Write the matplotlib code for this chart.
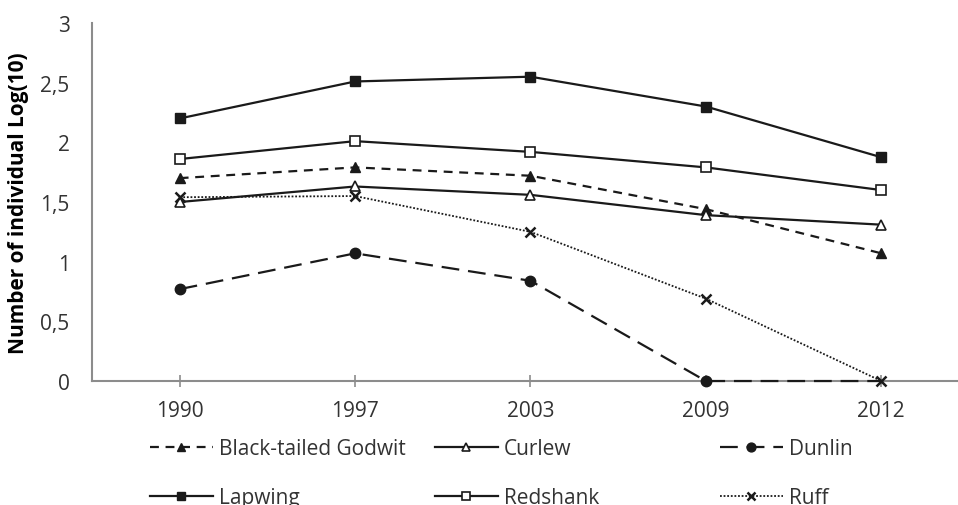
import matplotlib
matplotlib.use("Agg")
import matplotlib.pyplot as plt
from matplotlib.ticker import FuncFormatter

plt.rcParams['font.family'] = ['Open Sans', 'DejaVu Sans']

years = ["1990", "1997", "2003", "2009", "2012"]
godwit = [1.70, 1.79, 1.72, 1.44, 1.07]
curlew = [1.50, 1.63, 1.56, 1.39, 1.31]
dunlin = [0.77, 1.07, 0.84, 0.0, 0.0]
lapwing = [2.20, 2.51, 2.55, 2.30, 1.875]
redshank = [1.86, 2.01, 1.92, 1.79, 1.60]
ruff = [1.54, 1.55, 1.25, 0.69, 0.0]

LC = "#1a1a1a"
AX = "#8c8c8c"
TC = "#333333"

fig = plt.figure(figsize=(9.58, 5.06), dpi=100)
ax = fig.add_axes([0.096, 0.245, 0.9155, 0.7076])
x = range(len(years))

common = dict(color=LC, lw=1.6, mec=LC, clip_on=False, zorder=3)
h_god, = ax.plot(x, godwit, ls=(0, (4, 3)), marker="^", ms=7, mfc=LC, label="Black-tailed Godwit", **common)
h_cur, = ax.plot(x, curlew, ls="-", marker="^", ms=7, mfc="white", mew=1.2, label="Curlew", **common)
h_dun, = ax.plot(x, dunlin, ls=(0, (8, 4)), marker="o", ms=7.5, mfc=LC, markevery=[0, 1, 2, 3],
                 label="Dunlin", **common)
h_lap, = ax.plot(x, lapwing, ls="-", marker="s", ms=6.5, mfc=LC, label="Lapwing", **common)
h_red, = ax.plot(x, redshank, ls="-", marker="s", ms=7, mfc="white", mew=1.2, label="Redshank", **common)
h_ruf, = ax.plot(x, ruff, ls=(0, (1, 1)), lw=1.3, color=LC, marker="x", ms=7, mew=1.8, mec=LC,
                 clip_on=False, zorder=3, label="Ruff")

ax.set_xlim(-0.5, 4.5)
ax.set_ylim(0, 3)
ax.set_xticks(list(x))
ax.set_xticklabels(years)
ax.set_yticks([0, 0.5, 1, 1.5, 2, 2.5, 3])
ax.yaxis.set_major_formatter(FuncFormatter(lambda v, p: f"{v:g}".replace(".", ",")))

for s in ["top", "right"]:
    ax.spines[s].set_visible(False)
for s in ["left", "bottom"]:
    ax.spines[s].set_color(AX)
    ax.spines[s].set_linewidth(1.5)

ax.tick_params(axis="y", length=0, pad=16, labelsize=15, labelcolor=TC)
ax.tick_params(axis="x", direction="inout", length=8, width=1.2, color=AX, pad=10,
               labelsize=15, labelcolor=TC)
ax.set_ylabel("Number of individual Log(10)", fontsize=15, fontweight="bold")
ax.yaxis.set_label_coords(-0.072, 0.5)

# Excel-style legend: three equal-width columns
cols = [([h_god, h_lap], 150), ([h_cur, h_red], 435), ([h_dun, h_ruf], 720)]
for hs, px in cols:
    leg = fig.legend(handles=hs, loc="upper left", bbox_to_anchor=(px / 958, 1 - 439 / 506),
                     frameon=False, fontsize=15, handlelength=3.0, handletextpad=0.3,
                     labelspacing=1.35, borderaxespad=0, borderpad=0, markerscale=0.85)
    for t in leg.get_texts():
        t.set_color(TC)

fig.savefig("out.png", dpi=100)
